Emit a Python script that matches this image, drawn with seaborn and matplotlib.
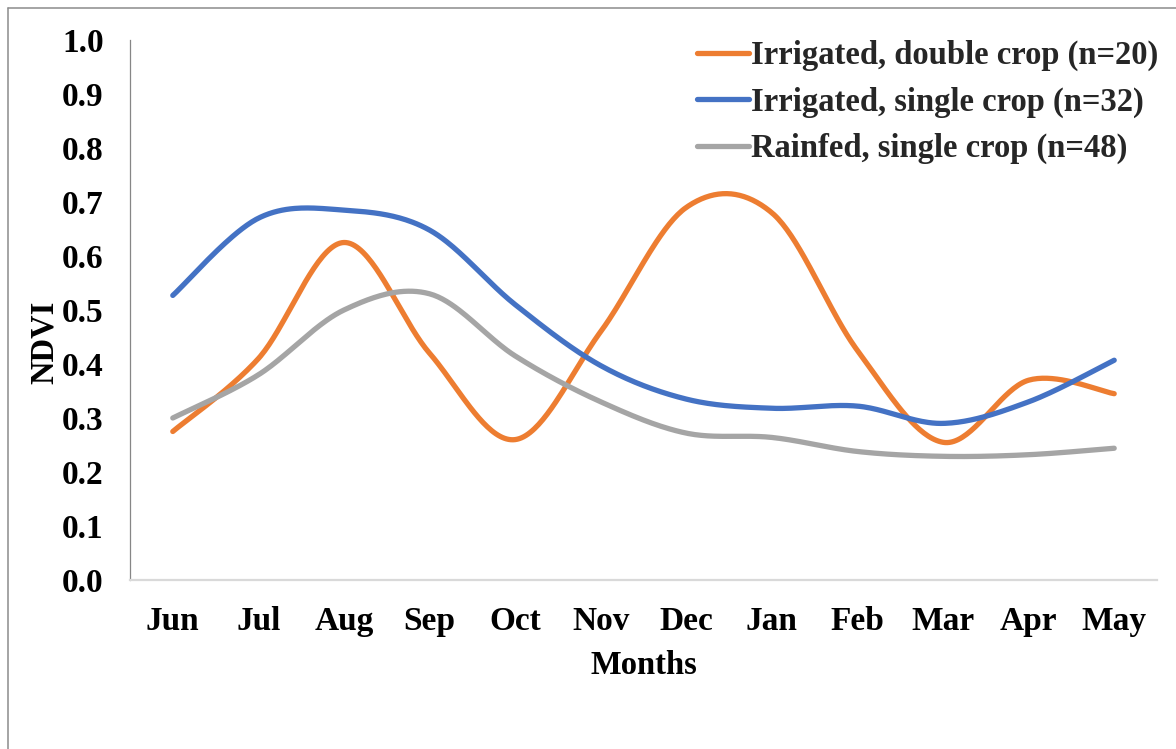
import numpy as np
import pandas as pd
import matplotlib
matplotlib.use("Agg")
import matplotlib.pyplot as plt
from matplotlib.lines import Line2D
import seaborn as sns

# Monthly mean NDVI per cropping class
months = ["Jun", "Jul", "Aug", "Sep", "Oct", "Nov", "Dec", "Jan", "Feb", "Mar", "Apr", "May"]
irrigated_double = [0.275, 0.41, 0.625, 0.42, 0.26, 0.46, 0.69, 0.68, 0.425, 0.255, 0.37, 0.345]
irrigated_single = [0.527, 0.67, 0.685, 0.648, 0.51, 0.397, 0.335, 0.318, 0.322, 0.29, 0.33, 0.407]
rainfed_single = [0.30, 0.38, 0.50, 0.53, 0.415, 0.33, 0.272, 0.264, 0.238, 0.229, 0.232, 0.244]

series_names = [
    "Irrigated, double crop (n=20)",
    "Irrigated, single crop (n=32)",
    "Rainfed, single crop (n=48)",
]
series_values = [irrigated_double, irrigated_single, rainfed_single]
colors = ["#ED7D31", "#4472C4", "#A5A5A5"]


def smooth_curve(values, steps=40):
    """Catmull-Rom style Bezier smoothing through every point (spreadsheet 'smoothed line')."""
    x = np.arange(len(values), dtype=float)
    y = np.asarray(values, dtype=float)
    px = np.concatenate([[x[0]], x, [x[-1]]])
    py = np.concatenate([[y[0]], y, [y[-1]]])
    xs, ys = [], []
    t = np.linspace(0, 1, steps, endpoint=False)
    for i in range(1, len(px) - 2):
        p0 = np.array([px[i - 1], py[i - 1]])
        p1 = np.array([px[i], py[i]])
        p2 = np.array([px[i + 1], py[i + 1]])
        p3 = np.array([px[i + 2], py[i + 2]])
        c1 = p1 + (p2 - p0) / 6.0
        c2 = p2 - (p3 - p1) / 6.0
        b = ((1 - t) ** 3)[:, None] * p1 + (3 * (1 - t) ** 2 * t)[:, None] * c1 \
            + (3 * (1 - t) * t ** 2)[:, None] * c2 + (t ** 3)[:, None] * p2
        xs.append(b[:, 0])
        ys.append(b[:, 1])
    xs.append([x[-1]])
    ys.append([y[-1]])
    return np.concatenate(xs), np.concatenate(ys)


frames = []
for name, vals in zip(series_names, series_values):
    sx, sy = smooth_curve(vals)
    frames.append(pd.DataFrame({"pos": sx, "NDVI": sy, "series": name}))
df = pd.concat(frames, ignore_index=True)

sns.set_theme(style="white")
plt.rcParams["font.family"] = ["Liberation Serif", "DejaVu Serif"]
plt.rcParams["font.weight"] = "bold"

W, H = 1176, 749
fig = plt.figure(figsize=(W / 100, H / 100), dpi=100)
ax = fig.add_axes([130 / W, 1 - 580 / H, 1027 / W, 540 / H])

sns.lineplot(data=df, x="pos", y="NDVI", hue="series", hue_order=series_names,
             palette=colors, linewidth=3.8, sort=False, estimator=None,
             legend=False, ax=ax)
for ln in ax.lines:
    ln.set_solid_capstyle("round")

ax.set_xlim(-0.5, len(months) - 0.5)
ax.set_ylim(0, 1.0)
ax.set_xticks(range(len(months)))
ax.set_xticklabels(months)
ax.set_yticks(np.arange(0, 1.01, 0.1))
ax.set_yticklabels([f"{v:.1f}" for v in np.arange(0, 1.01, 0.1)])
ax.tick_params(axis="both", length=0, labelsize=24, colors="black")
ax.tick_params(axis="y", pad=19)
ax.tick_params(axis="x", pad=19)
for lbl in ax.get_xticklabels() + ax.get_yticklabels():
    lbl.set_fontweight("bold")

ax.grid(False)
for side in ["top", "right"]:
    ax.spines[side].set_visible(False)
ax.spines["left"].set_color("#868686")
ax.spines["left"].set_linewidth(0.9)
ax.spines["bottom"].set_color("#D9D9D9")
ax.spines["bottom"].set_linewidth(1.6)

ax.set_xlabel("Months", fontsize=23.5, fontweight="bold", color="black")
ax.set_ylabel("NDVI", fontsize=23.5, fontweight="bold", color="black")
ax.xaxis.set_label_coords(0.5, -0.158)
ax.xaxis.label.set_verticalalignment("center")
ax.yaxis.set_label_coords(-0.083, 0.44)
ax.yaxis.label.set_verticalalignment("center")

handles = [Line2D([0], [0], color=c, linewidth=3.8, solid_capstyle="round") for c in colors]
leg = ax.legend(handles, series_names, loc="upper right",
                bbox_to_anchor=(1158 / W, 1 - 40 / H), bbox_transform=fig.transFigure,
                frameon=False, prop={"size": 23.5, "weight": "bold"},
                handlelength=1.6, handletextpad=0.05, labelspacing=0.47, borderpad=0,
                borderaxespad=0)

# outer chart-area frame (top and left edges visible)
fig.add_artist(Line2D([8 / W, 1.0], [1 - 8 / H, 1 - 8 / H], transform=fig.transFigure,
                      color="#8c8c8c", linewidth=1.1))
fig.add_artist(Line2D([8 / W, 8 / W], [0.0, 1 - 8 / H], transform=fig.transFigure,
                      color="#8c8c8c", linewidth=1.1))

fig.savefig("out.png", dpi=100, facecolor="white")
